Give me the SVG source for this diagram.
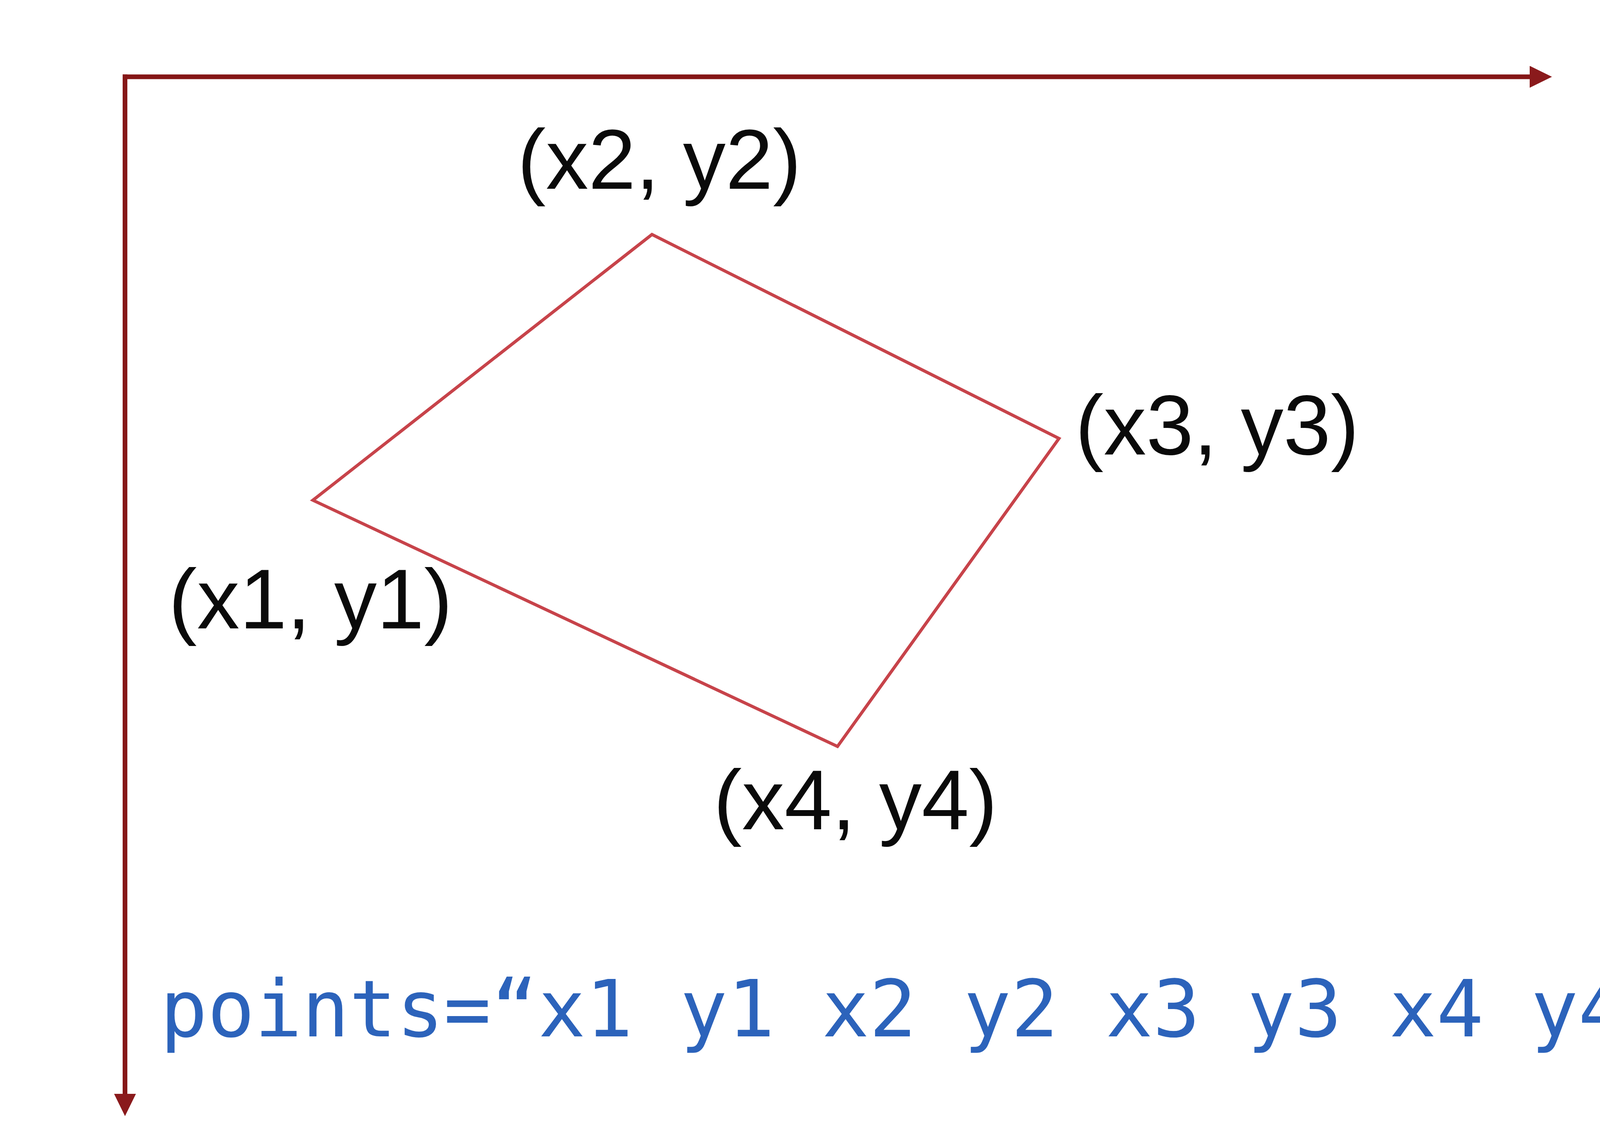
<svg xmlns="http://www.w3.org/2000/svg" width="4504" height="2912" viewBox="0 0 4504 2912">
  <style>
    .axis { stroke: #851616; stroke-width: 12; fill: none; }
    .quad { stroke: #C7434A; stroke-width: 8; fill: none; stroke-linejoin: miter; }
    .coord { font-family: "Liberation Sans", Arial, sans-serif; font-size: 218px; fill: #0a0a0a; text-anchor: middle; }
    .code { font-family: "DejaVu Sans Mono", "Liberation Mono", monospace; font-size: 201px; fill: #2C63BB; }
  </style>
  <defs>
    <marker id="arrow" markerUnits="userSpaceOnUse" viewBox="0 0 57 56" refX="2" refY="28" markerWidth="57" markerHeight="56" orient="auto">
      <path d="M0,0 L57,28 L0,56 Z" fill="#8A1A1C"/>
    </marker>
  </defs>
  <rect width="4504" height="2912" fill="#ffffff"/>
  <g id="axes">
    <line class="axis" x1="314" y1="196.5" x2="3918" y2="196.5" marker-end="url(#arrow)"/>
    <line class="axis" x1="320" y1="190.5" x2="320" y2="2801" marker-end="url(#arrow)"/>
  </g>
  <g id="quadrilateral">
    <polygon class="quad" points="801,1280 1669,600 2711,1122 2144,1910"/>
  </g>
  <g id="label-p2"><text class="coord" x="1688" y="483">(x2, y2)</text></g>
  <g id="label-p3"><text class="coord" x="3116" y="1163">(x3, y3)</text></g>
  <g id="label-p1"><text class="coord" x="795" y="1608">(x1, y1)</text></g>
  <g id="label-p4"><text class="coord" x="2190" y="2122">(x4, y4)</text></g>
  <g id="code"><text class="code" x="410" y="2652">points=“x1 y1 x2 y2 x3 y3 x4 y4”</text></g>
</svg>
